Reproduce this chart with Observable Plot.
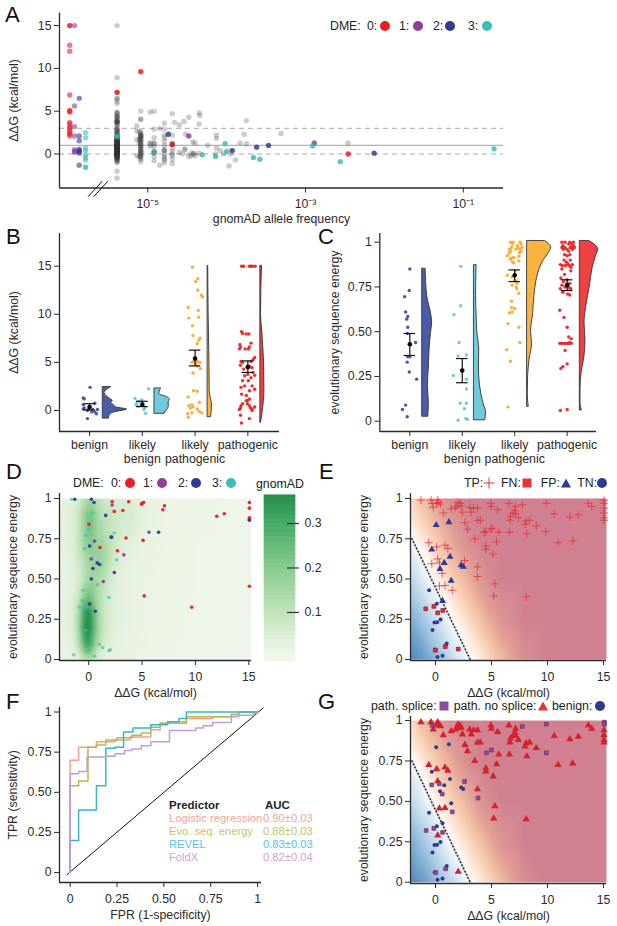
<!DOCTYPE html>
<html><head><meta charset="utf-8">
<script src="https://cdn.jsdelivr.net/npm/d3@7"></script>
<script src="https://cdn.jsdelivr.net/npm/@observablehq/plot@0.6"></script>
<style>
html,body{margin:0;padding:0;background:#fff}
#root{position:relative;width:617px;height:926px;overflow:hidden;font-family:"Liberation Sans",Arial,sans-serif;color:#222}
#root svg{overflow:visible}
.t{position:absolute;white-space:pre;transform:translateY(-50%);font-size:12.3px;line-height:1}
.m{position:absolute;transform:translate(-50%,-50%)}
</style></head><body><div id="root"></div>
<script>
// ---------- palette ----------
const dmeColors = ["#ed1c24","#8e3f98","#2e3a94","#3cbdb8"];
const classColors = ["#3f51a3","#68c8d9","#f9ab35","#ec2428"];
const violinFills = ["#4a5ca8","#6fcbdb","#fbb33f","#ef4044"];
const rocColors = ["#f3a08c","#b3ba4a","#36b6c8","#c39bd8"];
const rocTextColors = ["#f3a39a","#c3c565","#55c3ea","#d3a0d6"];
// ---------- panel A ----------
const aGrayMain = [15,8.9,7.2,6.5,6.5,6.2,5.9,4.9,4.8,4.7,4.5,4.3,4.3,4.1,3.9,3.8,3.8,3.7,3.7,3.4,3.4,3.1,2.8,2.8,2.6,2.6,2.4,2.4,2.2,2.2,2,2,1.9,1.8,1.8,1.7,1.6,1.6,1.5,1.5,1.4,1.4,1.3,1.3,1.3,1.2,1.2,1.2,1.1,1.1,1.1,1,1,1,.9,.9,.9,.8,.8,.8,.7,.7,.7,.6,.6,.6,.5,.5,.5,.4,.4,.4,.3,.3,.3,.2,.2,.2,.1,.1,.1,0,0,0,-.1,-.1,-.1,-.2,-.2,-.3,-.3,-.4,-.4,-.5,-.5,-.6,-.7,-.8,-.9,-1,-2,-2.8];
const aGrayCore = [1.6,1.5,1.4,1.4,1.3,1.3,1.2,1.2,1.1,1.1,1,1,.9,.9,.8,.8,.7,.7,.6,.6,.5,.5,.4,.4,.3,.3,.2,.2,.1,.1,0,0,-.1,-.1,-.2,-.3,-.4,4.4,3.8,3.7,2.9,1.9,1.7];
const aGrayCols = [
 [-5.14,[3.3,2.7,1.7,-.2]],[-5.11,[1.7,2.6,1.3,-.3]],
 [-5.09,[5,4.1,4,2.6,2.4,2.2,2.2,2.2,2,2,2,1.8,1.7,1.6,1.4,1.4,1.3,1,1,1,.8,.6,.6,.4,.4,.2,.2,0,0,-.2,-.3,-.4,-.6,-.9]],
 [-4.97,[4.9,1.3,1.2,.9]],[-4.92,[5,2.9,1.9,1.3,1.2,.9,.4,.2,.1,-.3,-.8]],
 [-4.85,[3,-1.3]],[-4.79,[3.6,2.9,2.2,1.9,1.5,1,.5,.4,.4,0,-.3,-.5,-.7,-1]],
 [-4.69,[4.7,2.2,1.3,1.2,1.1,.7,.3,0,-.2,-.6,-1.1]],[-4.66,[3.7]],[-4.6,[3.4,.2]],
 [-4.56,[0]],[-4.54,[3.8]],[-4.53,[.5,.6]],[-4.52,[2.3]],[-4.48,[4.3,-.3]],[-4.45,[.1,-.2]],
 [-4.43,[1.4]],[-4.42,[0,.1]],[-4.4,[1.3,-.2]],[-4.35,[4.8,3.5,.1]],[-4.34,[4.5]],
 [-4.24,[1]],[-4.14,[0]],[-4.13,[2.2,1.8,.7]],[-4.08,[.4]],[-4.04,[0]],[-3.97,[-1.4]],
 [-3.95,[0]],[-3.89,[-.7]],[-3.83,[1.3]],[-3.78,[2.3]],[-3.75,[3.9,1.2]],[-3.31,[2.4]],[-2.46,[1.3]]
];
const aDme = [
 [[-5.99,15],[-5.99,15],[-5.99,12.7],[-5.99,12],[-5.99,6.9],[-5.99,5.1],[-5.99,5],[-5.99,4.9],[-5.99,3.7],[-5.99,3.5],[-5.99,3.2],[-5.99,3],[-5.99,2.7],[-5.99,2.5],[-5.99,2.3],[-5.99,2.1],[-5.09,9.6],[-5.39,7.2],[-4.69,1.1],[-2.46,0]],
 [[-5.93,15],[-5.93,5.6],[-5.93,3.2],[-5.93,2.1],[-5.93,.5],[-5.93,.3],[-5.93,.2],[-4.48,2.1],[-2.89,1.3]],
 [[-5.87,6.5],[-5.87,2.1],[-5.87,1.55],[-5.87,.55],[-5.87,.4],[-5.87,.3],[-5.87,.1],[-5.87,-1.3],[-4.74,2.3],[-3.93,.4],[-3.62,.8],[-3.47,1],[-2.13,.1]],
 [[-5.79,2.5],[-5.79,1.9],[-5.79,.7],[-5.79,.4],[-5.79,-.1],[-5.79,-.4],[-5.79,-.7],[-5.79,-1.5],[-5.79,-1.6],[-5.39,2],[-5.39,2.1],[-4.92,.2],[-4.31,-.1],[-4.14,-.3],[-4.02,1.2],[-4,.3],[-3.66,-.4],[-3.58,-.6],[-2.91,.95],[-2.56,-.9],[-.61,.6]]
];
const aDashed = [3,0], aSolid = [1];
const aBreakA = [[-5.755,-4.96],[-5.582,-3.21]], aBreakB = [[-5.685,-4.96],[-5.51,-3.21]];
const aTicks = [-5,-3,-1], aTickLabels = ["10⁻⁵","10⁻³","10⁻¹"];
// ---------- panels B, C ----------
const catLabels = ["benign","likely\nbenign","likely\npathogenic","pathogenic"];
const bPoints = [
 [[.01,2.4],[-.12,1.3],[-.1,1.2],[.1,.75],[-.12,.6],[-.1,.25],[-.04,-.85],[.06,.1],[.15,.1],[.13,-.35],[.04,-.15],[-.04,0],[-.12,.15],[.1,-.15],[-.02,.1]],
 [[.12,2.25],[-.14,1.25],[-.01,1.1],[-.06,.95],[-.12,.6],[-.08,.45],[0,.7],[.03,.1],[.06,-.3],[.05,.3],[-.1,.85]],
 [[-.05,14.9],[.05,13.7],[.01,13.4],[.05,12.5],[.12,12],[.14,11.8],[-.13,10.7],[.06,10.4],[-.12,9.6],[.07,9.7],[-.05,8.8],[-.04,7.8],[.09,7.5],[.07,7.3],[.04,6.95],[-.03,5.1],[.04,5.1],[.09,5],[-.06,5],[.01,4.8],[.1,4.35],[.04,4.6],[-.04,3.9],[-.03,2.05],[.04,2],[-.13,1.4],[.08,.85],[-.12,.5],[-.06,.6],[-.09,.25],[-.04,.35],[.04,.15],[.08,-.1],[.13,-.25],[-.14,-.35],[-.06,-.25],[-.13,-.7]],
 [[-.12,15],[-.08,15],[.03,15],[.06,15],[.09,15],[.14,15],[-.12,8.2],[-.1,8],[-.03,7.95],[.02,7.95],[-.15,6.85],[-.14,6.6],[-.16,6.4],[.06,7],[.03,6.6],[-.05,6.4],[.01,6.4],[.13,5.5],[.1,5.3],[-.13,5.1],[-.1,5],[.06,5.1],[-.14,4.7],[.03,4.6],[.08,4.45],[-.08,4.3],[.1,3.95],[0,3.75],[-.06,3.6],[.06,3.4],[.13,3.65],[-.1,3.1],[.01,3.1],[-.06,2.55],[-.13,2.4],[.08,2.55],[.13,2.2],[.03,2.05],[-.12,1.7],[-.03,1.55],[.03,1.2],[0,1.05],[-.03,1],[-.1,.7],[-.01,.7],[.03,.5],[-.13,.5],[-.14,.25],[-.16,.1],[.08,.15],[.13,.35],[.08,0],[.05,.25],[-.14,-.5],[.03,-.85],[-.12,-1.3]]
];
const bViolinBase = [.25,.23,.237,.237];
const bViolins = [
 [[2.4,.154],[2.1,.07],[1.8,.035],[1.2,.14],[1,.19],[.8,.16],[.5,.22],[.3,.27],[.1,.46],[-.2,.22],[-.5,.13],[-.85,.115]],
 [[2.25,.122],[1.7,.09],[1.4,.23],[1.1,.295],[.85,.27],[.35,.27],[0,.23],[-.35,.19]],
 [[15,.012],[10,.02],[5,.035],[2,.04],[.5,.085],[-.7,.065]],
 [[15,.032],[13,.02],[10,.013],[8,.038],[5,.07],[2,.077],[.5,.058],[-1.3,.012]]
];
const bStats = [[.35,.05,.7],[.6,.4,.95],[5.4,4.63,6.27],[4.5,3.95,5.15]];
const cPoints = [
 [[0,.85],[-.01,.73],[-.1,.695],[-.08,.61],[-.04,.585],[-.06,.57],[-.04,.525],[-.05,.49],[.11,.44],[-.04,.36],[0,.36],[-.05,.33],[-.01,.275],[.13,.235],[-.08,.09],[-.14,.065],[-.05,.025]],
 [[-.03,.865],[-.03,.645],[-.16,.595],[-.06,.44],[-.08,.365],[.08,.37],[-.17,.255],[.08,.235],[.08,.18],[-.04,.1],[.08,.1],[.04,.07],[-.08,.005],[.07,.015],[.1,.01]],
 [[-.08,1],[-.04,.99],[-.03,1],[.05,.98],[.1,1],[.12,.99],[.1,.96],[.06,.97],[.02,.96],[-.06,.97],[-.1,.96],[-.08,.95],[.12,.95],[.14,.97],[.09,.94],[-.1,.94],[-.14,.925],[-.07,.91],[.08,.92],[-.02,.915],[-.04,.89],[.08,.895],[-.02,.885],[-.08,.905],[.01,.84],[-.14,.815],[-.05,.805],[0,.785],[.03,.785],[.04,.77],[-.05,.76],[.03,.75],[.04,.74],[.08,.715],[-.06,.67],[-.06,.635],[0,.63],[-.1,.605],[-.05,.61],[-.13,.545],[.08,.525],[.1,.44],[-.15,.4],[-.08,.335],[-.13,.08]],
 [[-.1,1],[-.08,.98],[-.1,.97],[-.07,.96],[-.04,.97],[-.04,1],[0,.96],[.03,.99],[.05,1],[.08,.99],[.12,1],[.12,.98],[.08,.97],[.1,.96],[.14,.97],[.03,.95],[.05,.93],[.06,.97],[-.05,.93],[0,.925],[-.06,.9],[-.02,.89],[.06,.9],[.1,.875],[.07,.86],[-.13,.875],[-.09,.87],[-.03,.87],[.01,.88],[.04,.87],[-.1,.85],[.07,.84],[-.05,.82],[-.12,.8],[-.07,.78],[0,.79],[.05,.77],[-.1,.76],[-.13,.74],[-.04,.75],[.04,.745],[.07,.74],[-.08,.72],[.01,.71],[.05,.705],[-.14,.62],[-.06,.58],[0,.525],[.03,.47],[.08,.46],[.05,.44],[-.14,.435],[-.11,.435],[-.08,.435],[-.05,.435],[-.02,.435],[.01,.435],[.04,.435],[.08,.435],[-.04,.395],[0,.32],[-.08,.305],[-.12,.295],[-.13,.06],[0,.065]]
];
const cViolinBase = [.236,.223,.236,.242];
const cViolins = [
 [[.85,.065],[.7,.095],[.6,.17],[.55,.19],[.5,.17],[.4,.14],[.3,.127],[.2,.108],[.1,.127],[.025,.115]],
 [[.87,.05],[.7,.04],[.6,.05],[.5,.064],[.4,.1],[.3,.095],[.2,.115],[.1,.18],[.05,.23],[.005,.215]],
 [[1.005,.35],[.99,.415],[.97,.46],[.94,.415],[.9,.32],[.85,.24],[.8,.19],[.7,.14],[.6,.115],[.5,.076],[.43,.095],[.35,.05],[.25,.02],[.15,.013],[.08,.032]],
 [[1.005,.19],[.99,.27],[.96,.35],[.92,.305],[.85,.24],[.75,.19],[.65,.127],[.55,.09],[.45,.108],[.35,.083],[.28,.038],[.18,.013],[.1,.013],[.06,.038]]
];
const cStats = [[.43,.367,.49],[.283,.215,.35],[.815,.78,.845],[.76,.73,.79]];
// ---------- panel D ----------
const dDensX = [-2.73,-1.5,-.9,-.5,-.1,.3,.7,1.2,1.8,2.5,3.3,4,5,7,10,15.25];
const dDensY = [0,.05,.1,.2,.3,.4,.5,.6,.7,.8,.9,1];
const dDens = [
 [.01,.015,.04,.09,.12,.1,.05,.03,.02,.015,.01,.01,.005,.003,.002,.001],
 [.01,.02,.08,.18,.24,.2,.1,.05,.03,.02,.012,.01,.008,.004,.002,.001],
 [.01,.03,.12,.26,.33,.27,.15,.08,.04,.022,.014,.012,.009,.004,.002,.001],
 [.012,.04,.15,.32,.38,.32,.2,.1,.06,.03,.018,.014,.01,.005,.002,.001],
 [.012,.04,.14,.29,.36,.3,.19,.1,.06,.03,.02,.015,.01,.005,.003,.001],
 [.012,.03,.08,.16,.23,.21,.15,.1,.06,.035,.02,.015,.01,.006,.003,.001],
 [.012,.025,.06,.1,.14,.16,.14,.12,.08,.04,.022,.015,.01,.006,.003,.001],
 [.012,.03,.07,.1,.14,.16,.17,.16,.11,.06,.025,.017,.012,.007,.003,.001],
 [.015,.035,.09,.14,.18,.19,.17,.16,.12,.07,.035,.025,.014,.008,.003,.001],
 [.015,.04,.09,.15,.21,.22,.16,.13,.1,.07,.05,.05,.02,.01,.004,.002],
 [.015,.04,.09,.15,.21,.22,.15,.11,.09,.07,.06,.06,.022,.01,.005,.002],
 [.012,.03,.06,.1,.13,.14,.1,.08,.06,.05,.04,.04,.018,.008,.004,.002]
];
const greenStops = [0,.05,.1,.2,.3,.37];
const greenRange = ["#eff6ea","#d9edd2","#bfe2b8","#84c98d","#44a866","#1f8a47"];
const colorbarLevels = [-.01,0,.01,.02,.03,.04,.05,.06,.07,.08,.09,.1,.11,.12,.13,.14,.15,.16,.17,.18,.19,.2,.21,.22,.23,.24,.25,.26,.27,.28,.29,.3,.31,.32,.33,.34,.35,.36];
const colorbarTicks = [.1,.2,.3];
const dDme = [
 [[2.2,.98],[3.75,.98],[4.95,.965],[5,.97],[5.15,.975],[2.4,.92],[3.2,.925],[6.95,.93],[7.1,.955],[12,.89],[12.7,.905],[15.05,.975],[15.05,.94],[15.05,.88],[15.05,.87],[.03,.84],[3.5,.755],[5.1,.74],[1.05,.695],[2.7,.675],[15.05,.455],[5.2,.395],[9.65,.325]],
 [[2.2,.96],[5.65,.79],[.55,.735],[2.1,.76],[3.3,.65],[.25,.625],[1.37,.485]],
 [[-1.3,.995],[.25,.995],[.5,.975],[1.6,.895],[6.55,.79],[2.15,.76],[15.05,.865],[.1,.705],[.8,.6],[1.03,.59],[.4,.565],[.25,.5],[2.4,.54],[.1,.345],[.63,.3]],
 [[-1.6,.995],[.4,.91],[2.4,.785],[-.28,.77],[.03,.81],[-.37,.69],[2.63,.62],[.84,.465],[-.53,.43],[1.9,.385],[-.6,.365],[-.85,.325],[-.2,.325],[-.28,.18],[.34,.147],[1,.095],[1.3,.075],[-.06,.055],[-1.4,.03],[.55,.02],[1.9,.055],[2.03,.06]]
];
// ---------- panels E, G ----------
const surfX = [-2.25,-1,0,1,2,3,4,5,6,8,10,15.27];
const surfY = [0,.25,.5,.75,1];
const surf = [
 [.02,.11,.21,.31,.41,.49,.55,.62,.71,.91,1,1],
 [.16,.28,.38,.47,.54,.6,.68,.78,.88,1,1,1],
 [.34,.45,.52,.59,.66,.75,.86,.94,1,1,1,1],
 [.49,.57,.64,.73,.83,.93,.99,1,1,1,1,1],
 [.6,.7,.8,.9,.97,1,1,1,1,1,1,1]
];
const surfStops = [0,.25,.45,.5,.56,.66,.8,1];
const surfRange = ["#4681b8","#9cc3df","#e4eff7","#ffffff","#fde7d8","#f6c6aa","#e3a096","#d08090"];
const boundary = [[-2.1,.75],[3.1,0]];
const tp = [[-1.3,.99],[-.4,.99],[.2,.99],[-.3,.97],[-.2,.945],[.1,.97],[.3,.975],[.45,.965],[.7,.91],[2,.975],[2.2,.97],[2.3,.955],[1.95,.955],[1.4,.935],[1.8,.945],[2.4,.915],[3.05,.945],[3.2,.915],[3.4,.94],[3.75,.94],[4.95,.97],[5,.95],[5.55,.93],[6.55,.97],[7.15,.95],[7.1,.925],[6.95,.91],[6.7,.89],[6.65,.865],[7.75,.96],[7.4,.88],[7.15,.905],[9.9,.97],[10.6,.905],[12,.885],[12.75,.9],[13.65,.97],[13.95,.95],[15.05,.99],[15.05,.97],[15.05,.94],[15.05,.91],[15.05,.88],[15.05,.865],[2.63,.85],[2.85,.81],[3.75,.865],[4,.865],[3.5,.75],[4.35,.79],[4.5,.795],[4.95,.81],[5.05,.815],[5.65,.79],[6.6,.79],[5.45,.73],[4.5,.705],[4.5,.685],[5.15,.655],[8,.84],[8.1,.86],[8.4,.865],[9,.83],[8.15,.78],[9.85,.795],[10.95,.725],[12.25,.735],[-.6,.725],[.1,.7],[.85,.71],[1.1,.69],[.2,.625],[.35,.6],[-.33,.595],[.6,.535],[2.6,.615],[3.75,.575],[3.75,.515],[.35,.457],[.85,.46],[1.5,.43],[5.3,.47],[5.2,.395],[8.1,.39]];
const fn = [[-.87,.315],[-.15,.33],[.2,.29],[.65,.305],[0,.058],[.87,.08],[2.03,.065]];
const fp = [[.06,.835],[1.2,.853],[-.33,.683],[.78,.6],[1.3,.638],[2.3,.586],[2.48,.576],[.4,.563],[1.4,.489],[.63,.364]];
const tn = [[-.57,.43],[.12,.346],[.45,.248],[.15,.232],[-.09,.23],[-.27,.184],[-.06,.062],[1,.1],[.9,.085],[.63,.023],[.18,.015]];
const splice = [[-.3,.97],[9.9,.977],[7.75,.963],[15.08,.99],[15.08,.977],[4.55,.8],[5,.818],[9.9,.8],[2.6,.623],[-.33,.602],[.33,.609],[.6,.545],[3.8,.52],[1.5,.435],[.63,.308],[-.15,.333],[-.84,.32],[.9,.083],[.03,.06]];
// ---------- panel F ----------
const rocLR = [[0,0],[0,.7],[.045,.78],[.14,.815],[.24,.825],[.32,.845],[.43,.89],[.48,.93],[.52,.94],[.62,.96],[.76,.97],[.86,.985],[.9,1],[1,1]];
const rocEvo = [[0,0],[0,.54],[.045,.57],[.095,.78],[.14,.795],[.19,.825],[.25,.84],[.33,.855],[.38,.87],[.43,.905],[.48,.93],[.62,.97],[.86,.985],[.9,1],[1,1]];
const rocRevel = [[0,0],[0,.2],[.045,.39],[.14,.54],[.19,.775],[.24,.78],[.285,.875],[.335,.9],[.43,.92],[.52,.94],[.58,.96],[.62,1],[1,1]];
const rocFold = [[0,0],[0,.615],[.045,.63],[.09,.72],[.19,.725],[.24,.74],[.29,.76],[.33,.77],[.38,.79],[.43,.815],[.53,.885],[.67,.9],[.71,.915],[.76,.935],[.86,.97],[.9,.98],[.98,.99],[1,1]];
const rocDiagonal = [[-.016,-.012],[1.03,1.025]];
const rocTable = [["Logistic regression","0.90±0.03"],["Evo. seq. energy","0.88±0.03"],["REVEL","0.83±0.03"],["FoldX","0.82±0.04"]];
const fTicks = [0,.25,.5,.75,1], fTickLabels = ["0","0.25","0.50","0.75","1"];

// ---------- helpers ----------
const root = document.getElementById("root");
const ink = "#2a2a2a";
const FONT = '"Liberation Sans",Arial,sans-serif';
function place(svg,left,top){svg.style.position="absolute";svg.style.left=left+"px";svg.style.top=top+"px";root.appendChild(svg);}
function text(s,x,y,o={}){const e=document.createElement("div");e.className="t";e.textContent=s;e.style.left=x+"px";e.style.top=y+"px";
  if(o.size)e.style.fontSize=o.size+"px";if(o.color)e.style.color=o.color;if(o.bold)e.style.fontWeight="bold";root.appendChild(e);}
function marker(shape,x,y,color,s=10){const e=document.createElement("div");e.className="m";e.style.left=x+"px";e.style.top=y+"px";
  if(shape==="circle"){e.style.cssText+=`width:${s}px;height:${s}px;border-radius:50%;background:${color}`;}
  if(shape==="square"){e.style.cssText+=`width:${s-1}px;height:${s-1}px;background:${color}`;}
  if(shape==="triangle"){e.style.cssText+=`width:0;height:0;border-left:${s/2}px solid transparent;border-right:${s/2}px solid transparent;border-bottom:${s-1}px solid ${color}`;}
  if(shape==="plus"){e.style.cssText+=`width:${s}px;height:${s}px;background:linear-gradient(${color},${color}) center/100% 1.2px no-repeat,linear-gradient(${color},${color}) center/1.2px 100% no-repeat`;}
  root.appendChild(e);}
const xy = a => a.map(([x,y])=>({x,y}));
function axes(xDom,yDom,o){
  return [
    Plot.ruleX([xDom[0]],{stroke:ink,strokeWidth:1.3}),
    Plot.ruleY([yDom[0]],{stroke:ink,strokeWidth:1.3}),
    Plot.axisY({ticks:o.yTicks,tickFormat:o.yFmt,tickSize:5,tickPadding:3,label:o.yLabel,labelAnchor:"center",labelArrow:"none",labelOffset:o.yOff,stroke:ink,color:ink}),
    Plot.axisX({ticks:o.xTicks,tickFormat:o.xFmt,tickSize:5,tickPadding:o.xPad??5,lineHeight:1.15,label:o.xLabel??null,labelAnchor:"center",labelArrow:"none",labelOffset:o.xOff,stroke:ink,color:ink})
  ];
}
const baseStyle = {background:"transparent",fontFamily:FONT,fontSize:"12.3px",overflow:"visible"};
const fracFmt = v => ({0:"0",.25:"0.25",.5:"0.50",.75:"0.75",1:"1"}[v]);
const fracTicks = [0,.25,.5,.75,1];

// ---------- A ----------
{
  const xD=[-6.12,-.49], yD=[-3.97,16.47];
  const gray = aGrayMain.concat(aGrayCore).map(y=>({x:-5.39,y})).concat(aGrayCols.flatMap(([x,ys])=>ys.map(y=>({x,y}))));
  place(Plot.plot({width:617,height:225,marginLeft:59,marginRight:114,marginTop:12.5,marginBottom:37.5,style:baseStyle,
    x:{domain:xD},y:{domain:yD},
    marks:[
      Plot.ruleY(aDashed,{stroke:"#aaa",strokeWidth:1,strokeDasharray:"5 4"}),
      Plot.ruleY(aSolid,{stroke:"#b4b4b4",strokeWidth:1.3}),
      ...aDme.map((d,i)=>Plot.dot(xy(d),{x:"x",y:"y",r:2.7,fill:dmeColors[i],fillOpacity:.6})),
      Plot.dot(gray,{x:"x",y:"y",r:2.7,fill:"#333",fillOpacity:.25}),
      ...aDme.map((d,i)=>Plot.dot(xy(d).filter(p=>p.x>-5.5),{x:"x",y:"y",r:2.5,fill:dmeColors[i],fillOpacity:.6})),
      Plot.line(xy(aBreakA),{x:"x",y:"y",stroke:"#111",strokeWidth:1}),
      Plot.line(xy(aBreakB),{x:"x",y:"y",stroke:"#111",strokeWidth:1}),
      ...axes(xD,yD,{yTicks:[0,5,10,15],yLabel:"ΔΔG (kcal/mol)",yOff:50,xTicks:aTicks,xFmt:v=>aTickLabels[aTicks.indexOf(v)],xLabel:"gnomAD allele frequency",xOff:35})
    ]}),0,0);
  text("DME:",330,26);
  [[367,385],[399,417.5],[433,450],[468,486.5]].forEach(([a,b],i)=>{text(i+":",a,26);marker("circle",b,26,dmeColors[i]);});
}
// ---------- B, C ----------
function rain(points,violins,bases,stats,xD,yD,o){
  const dots = points.flatMap((g,i)=>g.map(([j,y])=>({x:i+j,y,i})));
  const marks=[];
  violins.forEach((v,i)=>{
    const rows=v.map(([y,w])=>({y,x0:i+bases[i],x:i+bases[i]+w}));
    marks.push(Plot.areaX(rows,{y:"y",x1:"x0",x2:"x",fill:violinFills[i],stroke:"#333",strokeWidth:.9,curve:"monotone-y"}));
    marks.push(Plot.dot(dots.filter(d=>d.i===i),{x:"x",y:"y",r:1.7,fill:classColors[i],fillOpacity:.95}));
  });
  const st=stats.map(([m,l,h],i)=>({i,m,l,h}));
  marks.push(Plot.ruleX(st,{x:"i",y1:"l",y2:"h",stroke:"#111",strokeWidth:1.2}));
  marks.push(Plot.ruleY(st,{y:"l",x1:d=>d.i-.11,x2:d=>d.i+.11,stroke:"#111",strokeWidth:1.2}));
  marks.push(Plot.ruleY(st,{y:"h",x1:d=>d.i-.11,x2:d=>d.i+.11,stroke:"#111",strokeWidth:1.2}));
  marks.push(Plot.dot(st,{x:"i",y:"m",r:2.3,fill:"#000"}));
  return Plot.plot({width:o.w,height:o.h,marginLeft:o.ml,marginRight:o.mr,marginTop:o.mt,marginBottom:o.mb,style:baseStyle,
    x:{domain:xD},y:{domain:yD},
    marks:[...marks,...axes(xD,yD,{yTicks:o.yTicks,yFmt:o.yFmt,yLabel:o.yLabel,yOff:o.yOff,xTicks:[0,1,2,3],xFmt:i=>catLabels[i],xPad:2})]});
}
place(rain(bPoints,bViolins,bViolinBase,bStats,[-.57,3.6],[-2.19,18.4],{w:300,h:240,ml:59,mr:21,mt:8,mb:34,yTicks:[0,5,10,15],yLabel:"ΔΔG (kcal/mol)",yOff:50}),0,225);
place(rain(cPoints,cViolins,cViolinBase,cStats,[-.5725,3.56],[-.0575,1.0486],{w:307,h:240,ml:69.3,mr:21,mt:8,mb:34,yTicks:fracTicks,yFmt:fracFmt,yLabel:"evolutionary sequence energy",yOff:50}),310,225);
// ---------- D ----------
{
  const xD=[-2.73,15.25], yD=[-.006,1.031];
  const dens = dDensY.flatMap((y,r)=>dDensX.map((x,c)=>({x,y,v:dDens[r][c]})));
  place(Plot.plot({width:255,height:215,marginLeft:59,marginRight:4,marginTop:8,marginBottom:40,style:baseStyle,
    x:{domain:xD},y:{domain:yD},color:{type:"linear",domain:greenStops,range:greenRange,clamp:true},
    marks:[
      Plot.raster(dens,{x:"x",y:"y",fill:"v",x1:xD[0],x2:xD[1],y1:0,y2:1,interpolate:"barycentric",pixelSize:1,blur:1}),
      ...dDme.map((d,i)=>Plot.dot(xy(d),{x:"x",y:"y",r:1.8,fill:dmeColors[i],fillOpacity:i===3?.65:.95})),
      ...axes(xD,yD,{yTicks:fracTicks,yFmt:fracFmt,yLabel:"evolutionary sequence energy",yOff:51,xTicks:[0,5,10,15],xLabel:"ΔΔG (kcal/mol)",xOff:36})
    ]}),0,485);
  text("DME:",73,483);
  [[111,130],[143,162],[178,196],[212,231]].forEach(([a,b],i)=>{text(i+":",a,483);marker("circle",b,483,dmeColors[i]);});
  // colour bar
  const bar=colorbarLevels.map((v,i)=>({y1:v,y2:(colorbarLevels[i+1]??.3635)}));
  place(Plot.plot({width:60,height:175,marginLeft:9,marginRight:20,marginTop:5,marginBottom:5,style:baseStyle,
    x:{domain:[0,1],axis:null},y:{domain:[-.008,.363],axis:null},color:{type:"linear",domain:greenStops,range:greenRange,clamp:true},
    marks:[
      Plot.rectY(bar,{x1:0,x2:1,y1:"y1",y2:"y2",fill:d=>Math.max(0,d.y1),inset:-.3}),
      Plot.ruleY(colorbarTicks,{x1:.74,x2:1.13,stroke:"#333",strokeWidth:1.2}),
      Plot.text(colorbarTicks,{x:1.13,y:d=>d,text:d=>d.toFixed(1),textAnchor:"start",dx:5,fill:ink,fontSize:12.3})
    ]}),255,490);
  text("gnomAD",256,484);
}
// ---------- E, G ----------
function surfacePanel(layers,left,top,mt,yD,yOff){
  const xD=[-2.232,15.27];
  const cells=surfY.flatMap((y,r)=>surfX.map((x,c)=>({x,y,v:surf[r][c]})));
  return place(Plot.plot({width:257,height:mt+167+40,marginLeft:50,marginRight:11,marginTop:mt,marginBottom:40,style:baseStyle,
    x:{domain:xD},y:{domain:yD},color:{type:"linear",domain:surfStops,range:surfRange,clamp:true},
    marks:[
      Plot.raster(cells,{x:"x",y:"y",fill:"v",x1:-2.2,x2:15.27,y1:0,y2:1,interpolate:"barycentric",pixelSize:1,blur:1}),
      Plot.line(xy(boundary),{x:"x",y:"y",stroke:"#999",strokeWidth:2.4,strokeOpacity:.4}),
      Plot.line(xy(boundary),{x:"x",y:"y",stroke:"#111",strokeWidth:1.4,strokeLinecap:"round",strokeDasharray:"0.5 3"}),
      ...layers,
      ...axes(xD,yD,{yTicks:fracTicks,yFmt:fracFmt,yLabel:"evolutionary sequence energy",yOff:yOff,xTicks:[0,5,10,15],xLabel:"ΔΔG (kcal/mol)",xOff:36})
    ]}),left,top);
}
const RED="#e0323c", DRED="#a01c28", BLUE="#2e3a94", PURPLE="#8a4aa8";
surfacePanel([
  Plot.dot(xy(tn),{x:"x",y:"y",r:2,fill:BLUE}),
  Plot.dot(xy(fp),{x:"x",y:"y",r:2.6,symbol:"triangle",fill:BLUE}),
  Plot.dot(xy(fn),{x:"x",y:"y",r:2.1,symbol:"square",fill:RED,stroke:DRED,strokeWidth:.8}),
  Plot.dot(xy(tp),{x:"x",y:"y",r:2.7,symbol:"plus",stroke:RED,strokeWidth:.9,strokeOpacity:.85})
],360,485,8,[-.006,1.031],51);
text("TP:",464,482.7);marker("plus",489,482.7,"#e8323a",11);
text("FN:",501,482.7);marker("square",527.3,482.7,"#e8323a",10);
text("FP:",540.7,482.7);marker("triangle",565.7,482.7,BLUE,10);
text("TN:",577.3,482.7);marker("circle",602,482.7,BLUE,10);
{
  const noSplice=tp.concat(fn).filter(([x,y])=>!splice.some(([a,b])=>Math.abs(a-x)<.3&&Math.abs(b-y)<.015));
  surfacePanel([
    Plot.dot(xy(tn.concat(fp)),{x:"x",y:"y",r:2,fill:BLUE}),
    Plot.dot(xy(noSplice),{x:"x",y:"y",r:2.7,symbol:"triangle",fill:"#d4222c"}),
    Plot.dot(xy(splice),{x:"x",y:"y",r:2.1,symbol:"square",fill:PURPLE,stroke:"#7a2a60",strokeWidth:.7})
  ],360,708,8,[-.008,1.025],51);
}
text("path. splice:",371,706);marker("square",444,706,PURPLE,10);
text("path. no splice:",453.7,706);marker("triangle",543,706,"#e8323a",10);
text("benign:",552,706);marker("circle",600,706,BLUE,10);
// ---------- F ----------
{
  const xD=[-.057,1.021], yD=[-.062,1.03];
  const curves=[rocLR,rocEvo,rocRevel,rocFold];
  place(Plot.plot({width:300,height:225,marginLeft:59,marginRight:39,marginTop:6.7,marginBottom:43,style:baseStyle,
    x:{domain:xD},y:{domain:yD},
    marks:[
      Plot.line(xy(rocDiagonal),{x:"x",y:"y",stroke:"#111",strokeWidth:1}),
      ...curves.map((c,i)=>Plot.line(xy(c),{x:"x",y:"y",stroke:rocColors[i],strokeWidth:1.5,curve:"step-after"})),
      ...axes(xD,yD,{yTicks:fTicks,yFmt:v=>fTickLabels[fTicks.indexOf(v)],yLabel:"TPR (sensitivity)",yOff:51,xTicks:fTicks,xFmt:v=>fTickLabels[fTicks.indexOf(v)],xLabel:"FPR (1-specificity)",xOff:36})
    ]}),0,700);
  text("Predictor",169,806,{bold:true,size:11.5});
  text("AUC",265,806,{bold:true,size:11.5});
  rocTable.forEach(([n,a],i)=>{const y=819+i*13.1;text(n,169,y,{color:rocTextColors[i],size:11.2});text(a,263,y,{color:rocTextColors[i],size:11.2});});
}
// ---------- letters ----------
[["A",5,15],["B",6,237],["C",318,237],["D",6,472],["E",319,472],["F",6,702],["G",318,702]].forEach(([l,x,y])=>text(l,x,y,{size:22,color:"#111"}));
</script></body></html>
